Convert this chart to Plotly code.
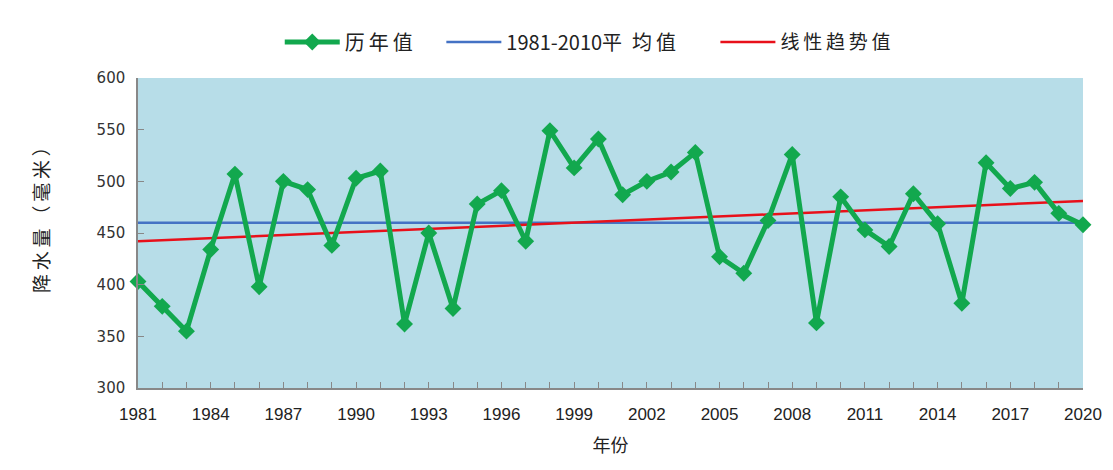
import plotly.graph_objects as go

years = list(range(1981, 2021))
precip = [403, 379, 355, 434, 507, 398, 500, 492, 438, 503,
          510, 362, 450, 377, 478, 491, 442, 549, 513, 541,
          487, 500, 509, 528, 427, 411, 462, 526, 363, 485,
          453, 437, 488, 459, 382, 518, 493, 499, 469, 458]
avg_1981_2010 = 460
trend_start, trend_end = 442, 481
x_ticks = list(range(1981, 2021, 3)) + [2020]

ts = "\u2009"
fig = go.Figure()
fig.add_trace(go.Scatter(
    x=[years[0], years[-1]], y=[avg_1981_2010, avg_1981_2010], mode="lines",
    name="1981-2010平\u2002均" + ts + "值", legend="legend2",
    line=dict(color="#4472C4", width=2.5)))
fig.add_trace(go.Scatter(
    x=[years[0], years[-1]], y=[trend_start, trend_end], mode="lines",
    name=ts.join("线性趋势值"), legend="legend3", line=dict(color="#E8101A", width=2.5)))
fig.add_trace(go.Scatter(
    x=years, y=precip, mode="lines+markers", name=ts.join("历年值"), legend="legend",
    line=dict(color="#12A84E", width=5),
    marker=dict(symbol="diamond", size=13, color="#12A84E"),
    cliponaxis=False))

def leg(x, size):
    return dict(orientation="h", x=x, y=1.116, yanchor="middle", xanchor="left",
                font=dict(size=size, family="Noto Sans CJK SC", color="#222"),
                itemwidth=55, bgcolor="rgba(0,0,0,0)")

fig.update_layout(
    width=1105, height=462,
    margin=dict(l=130, r=30, t=70, b=82, autoexpand=False),
    paper_bgcolor="white", plot_bgcolor="#B7DDE8",
    font=dict(family="Noto Sans CJK SC, DejaVu Sans", color="#222"),
    showlegend=True,
    legend=leg(0.150, 20),
    legend2=leg(0.321, 20),
    legend3=leg(0.611, 19),
    xaxis=dict(range=[1981, 2020], tickmode="array", tickvals=x_ticks,
               ticktext=[str(v) for v in x_ticks],
               tickfont=dict(size=17, family="Liberation Sans Narrow, Liberation Sans", color="#222"),
               ticks="inside", ticklen=6, tickcolor="#888", ticklabelstandoff=10,
               minor=dict(dtick=1, tick0=1981, ticks="inside", ticklen=6, tickcolor="#888"),
               showline=True, linecolor="#888", linewidth=1.5, showgrid=False, zeroline=False,
               title=dict(text="年份", font=dict(size=18, family="Noto Sans CJK SC"), standoff=16)),
    yaxis=dict(range=[300, 600], dtick=50, tick0=300,
               tickfont=dict(size=15, family="DejaVu Sans", color="#333"),
               ticks="inside", ticklen=6, tickcolor="#888", ticklabelstandoff=8,
               showline=True, linecolor="#888", linewidth=1.5, showgrid=False, zeroline=False),
    annotations=[dict(text=ts.join("降水量（毫米）"), textangle=-90, showarrow=False,
                      xref="paper", yref="paper", x=-0.1037, y=0.558,
                      xanchor="center", yanchor="middle",
                      font=dict(size=19, family="Noto Sans CJK SC", color="#222"))],
)

fig.write_html("out.html")
